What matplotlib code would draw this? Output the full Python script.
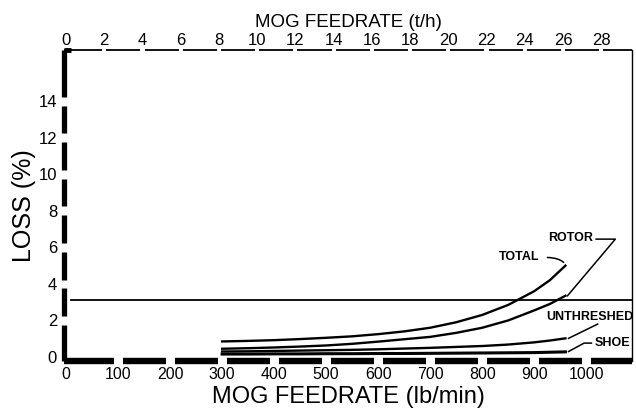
import numpy as np
import matplotlib
matplotlib.use("Agg")
import matplotlib.pyplot as plt

plt.rcParams['font.family'] = ['Liberation Sans', 'DejaVu Sans']

# ---- data ----
feed = [300, 350, 400, 450, 500, 550, 600, 650, 700, 750, 800, 850, 900, 930, 960]   # lb/min
total = [0.85, 0.88, 0.92, 0.98, 1.05, 1.13, 1.25, 1.40, 1.60, 1.90, 2.30, 2.85, 3.60, 4.20, 5.00]
rotor = [0.45, 0.48, 0.52, 0.57, 0.63, 0.72, 0.84, 0.97, 1.10, 1.32, 1.60, 2.00, 2.55, 2.90, 3.35]
unthreshed = [0.30, 0.31, 0.33, 0.35, 0.37, 0.39, 0.42, 0.46, 0.50, 0.55, 0.60, 0.68, 0.80, 0.90, 1.02]
shoe = [0.16, 0.16, 0.17, 0.17, 0.18, 0.18, 0.19, 0.19, 0.20, 0.21, 0.22, 0.23, 0.24, 0.26, 0.28]
ref_x = [10, 1088]
ref_y = [3.1, 3.1]

x_ticks = [0, 100, 200, 300, 400, 500, 600, 700, 800, 900, 1000]
y_ticks = [0, 2, 4, 6, 8, 10, 12, 14]
top_ticks = [0, 2, 4, 6, 8, 10, 12, 14, 16, 18, 20, 22, 24, 26, 28]
LB_PER_TH = 36.74  # 1 t/h in lb/min

XMIN, XMAX = -4, 1088
YMIN, YMAX = -0.22, 16.8

fig = plt.figure(figsize=(6.36, 4.11), dpi=100)
ax = fig.add_axes([64/636, (411-361)/411, (632-64)/636, (361-50)/411])
ax.set_xlim(XMIN, XMAX)
ax.set_ylim(YMIN, YMAX)
for s in ax.spines.values():
    s.set_visible(False)

def segs(lo, hi, gaps, hw):
    pts = [lo]
    for g in gaps:
        if lo < g < hi:
            pts += [g - hw, g + hw]
    pts.append(hi)
    return [(pts[i], pts[i+1]) for i in range(0, len(pts), 2)]

# bottom thick dashed axis
for a, b in segs(XMIN, XMAX, x_ticks[1:], 8.5):
    ax.plot([a, b], [YMIN, YMIN], color='black', lw=4.6, solid_capstyle='butt', clip_on=False)
# left thick dashed axis
for a, b in segs(YMIN, YMAX, y_ticks[1:], 0.24):
    ax.plot([XMIN, XMIN], [a, b], color='black', lw=3.8, solid_capstyle='butt', clip_on=False)
# top thin axis
for a, b in segs(XMIN, XMAX, [t * LB_PER_TH for t in top_ticks[1:]], 4):
    ax.plot([a, b], [YMAX, YMAX], color='black', lw=1.3, solid_capstyle='butt', clip_on=False)
ax.plot([XMIN, 10], [YMAX, YMAX], color='black', lw=3.5, solid_capstyle='butt', clip_on=False)
# right thin axis
ax.plot([XMAX, XMAX], [YMIN, YMAX], color='black', lw=1.0, clip_on=False)

# curves
ax.plot(ref_x, ref_y, color='black', lw=1.3, clip_on=False)
ax.plot(feed, total, color='black', lw=1.7)
ax.plot(feed, rotor, color='black', lw=1.7)
ax.plot(feed, unthreshed, color='black', lw=1.7)
ax.plot(feed, shoe, color='black', lw=2.2)

# annotations
akw = dict(fontsize=9, fontweight='bold', color='black', clip_on=False)
ax.text(969, 6.5, 'ROTOR', ha='center', va='center', **akw)
ax.plot([1019, 1056, feed[-1] + 4], [6.45, 6.45, rotor[-1]], color='black', lw=1.1, clip_on=False)
ax.text(871, 5.46, 'TOTAL', ha='center', va='center', **akw)
ax.annotate('', xy=(feed[-1], total[-1] + 0.05), xytext=(920, 5.45),
            arrowprops=dict(arrowstyle='-', lw=1.1, color='black',
                            connectionstyle='angle3,angleA=0,angleB=-60'))
ax.text(1007, 2.19, 'UNTHRESHED', ha='center', va='center', **akw)
ax.plot([1022, feed[-1] + 6], [1.8, unthreshed[-1]], color='black', lw=1.1)
ax.text(1050, 0.77, 'SHOE', ha='center', va='center', **akw)
ax.plot([1010, 996, feed[-1] + 6], [0.76, 0.76, shoe[-1] + 0.02], color='black', lw=1.1)

# ticks
ax.set_xticks(x_ticks)
ax.set_xticklabels([str(v) for v in x_ticks])
ax.set_yticks(y_ticks)
ax.set_yticklabels([str(v) for v in y_ticks])
ax.tick_params(axis='x', length=0, pad=4, labelsize=11.5)
ax.tick_params(axis='y', length=0, pad=5, labelsize=12)

secax = ax.secondary_xaxis('top', functions=(lambda v: v / LB_PER_TH, lambda v: v * LB_PER_TH))
secax.set_xticks(top_ticks)
secax.set_xticklabels([str(v) for v in top_ticks])
secax.tick_params(axis='x', length=0, pad=1.5, labelsize=12)
for s in secax.spines.values():
    s.set_visible(False)
secax.set_xlabel('MOG FEEDRATE (t/h)', fontsize=13.5, labelpad=4)

ax.set_xlabel('MOG FEEDRATE (lb/min)', fontsize=17, labelpad=3)
ax.set_ylabel('LOSS (%)', fontsize=18, labelpad=2)

fig.savefig('out.png', dpi=100)
